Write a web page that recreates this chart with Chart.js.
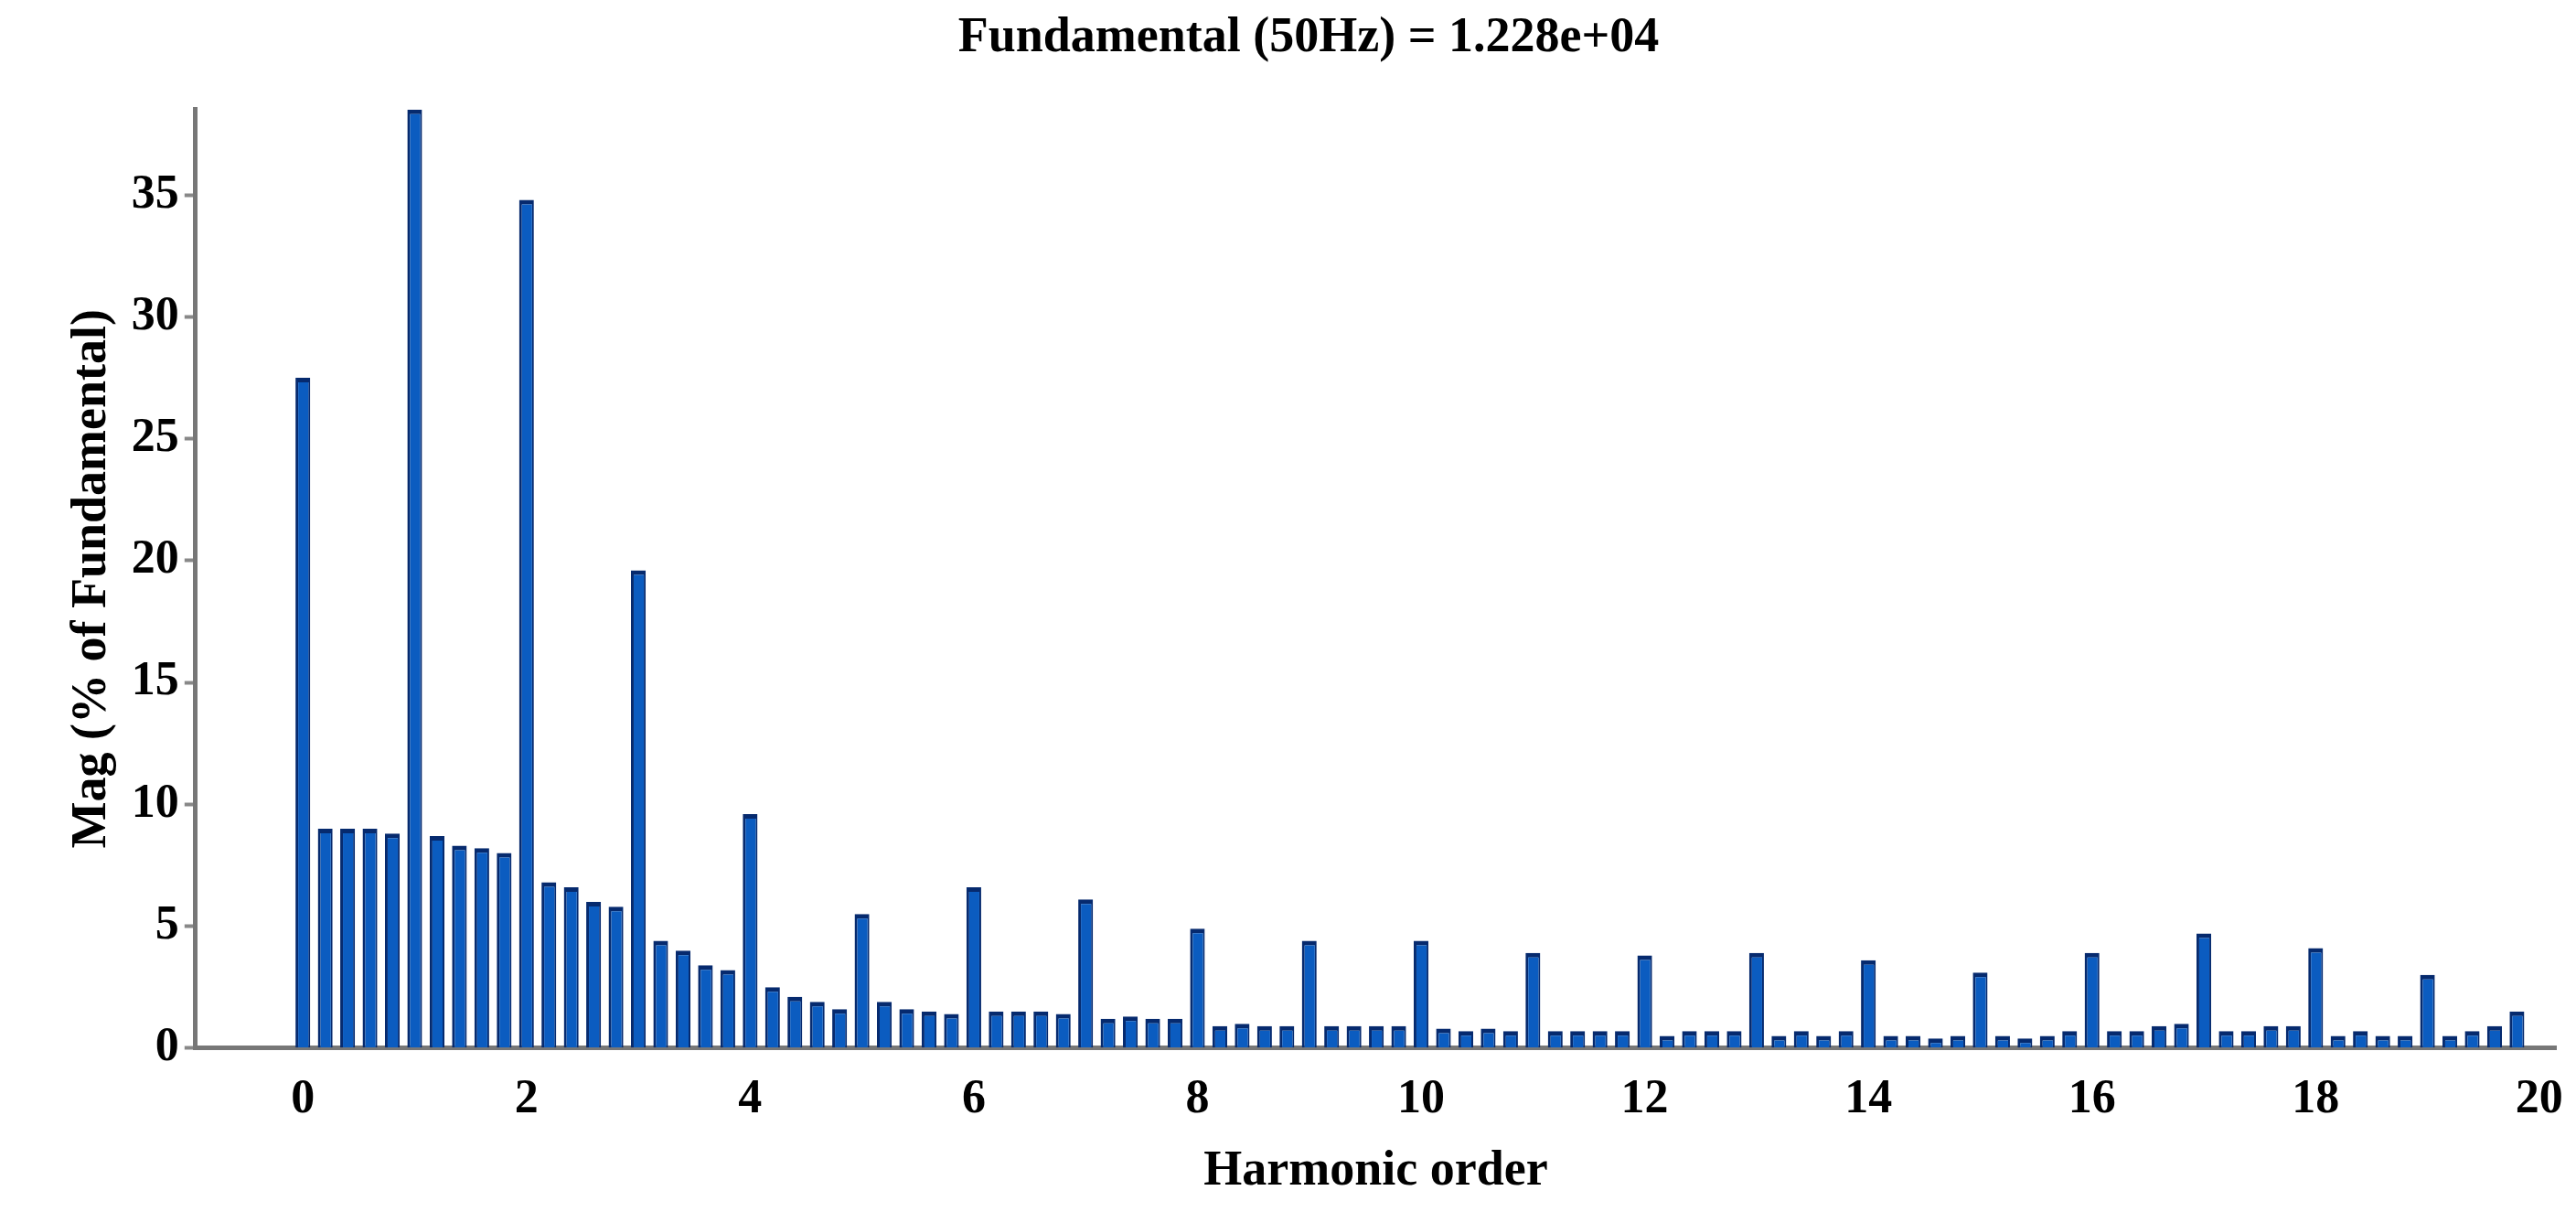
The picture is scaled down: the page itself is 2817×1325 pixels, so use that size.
<!DOCTYPE html>
<html>
<head>
<meta charset="utf-8">
<script src="https://cdn.jsdelivr.net/npm/chart.js@4/dist/chart.umd.min.js"></script>
<style>
  html, body { margin: 0; padding: 0; background: #fff; }
  #wrap { width: 2817px; height: 1325px; }
</style>
</head>
<body>
<div id="wrap"><canvas id="espectro"></canvas></div>
<script>
// harmonic order, step 0.2
var ordenes = [];
for (var i = 0; i < 100; i++) ordenes.push(Math.round(i * 2) / 10);

// Mag (% of fundamental)
var magnitudes = [
  27.5, 9.0, 9.0, 9.0, 8.8,
  38.5, 8.7, 8.3, 8.2, 8.0,
  34.8, 6.8, 6.6, 6.0, 5.8,
  19.6, 4.4, 4.0, 3.4, 3.2,
  9.6, 2.5, 2.1, 1.9, 1.6,
  5.5, 1.9, 1.6, 1.5, 1.4,
  6.6, 1.5, 1.5, 1.5, 1.4,
  6.1, 1.2, 1.3, 1.2, 1.2,
  4.9, 0.9, 1.0, 0.9, 0.9,
  4.4, 0.9, 0.9, 0.9, 0.9,
  4.4, 0.8, 0.7, 0.8, 0.7,
  3.9, 0.7, 0.7, 0.7, 0.7,
  3.8, 0.5, 0.7, 0.7, 0.7,
  3.9, 0.5, 0.7, 0.5, 0.7,
  3.6, 0.5, 0.5, 0.4, 0.5,
  3.1, 0.5, 0.4, 0.5, 0.7,
  3.9, 0.7, 0.7, 0.9, 1.0,
  4.7, 0.7, 0.7, 0.9, 0.9,
  4.1, 0.5, 0.7, 0.5, 0.5,
  3.0, 0.5, 0.7, 0.9, 1.5
];

var ticks_x = [0, 2, 4, 6, 8, 10, 12, 14, 16, 18, 20];
var ticks_y = [0, 5, 10, 15, 20, 25, 30, 35];

var puntos = [];
for (var i in ordenes) puntos.push({x: ordenes[i], y: magnitudes[i]});

var fuente = 'Liberation Serif';

new Chart(document.getElementById('espectro'), {
  type: 'bar',
  data: {
    datasets: [{
      label: 'Mag',
      data: puntos,
      backgroundColor: '#0b5cc0',
      borderColor: '#062a6e',
      borderWidth: {top: 5, left: 3, right: 2, bottom: 0},
      barPercentage: 0.66,
      categoryPercentage: 1
    }]
  },
  options: {
    responsive: true,
    maintainAspectRatio: false,
    animation: false,
    layout: {padding: {top: 10, right: 20, left: 65, bottom: 8}},
    plugins: {
      legend: {display: false},
      tooltip: {enabled: false},
      title: {
        display: true,
        text: 'Fundamental (50Hz) = 1.228e+04',
        color: '#000',
        font: {family: fuente, size: 54, weight: 'bold'},
        padding: {top: 0, bottom: 45}
      }
    },
    scales: {
      x: {
        type: 'linear',
        offset: false,
        min: -0.96,
        max: 20.15,
        afterBuildTicks: function(ax) { ax.ticks = ticks_x.map(function(v){ return {value: v}; }); },
        grid: {display: false, tickLength: 12},
        border: {color: '#777', width: 5},
        ticks: {color: '#000', font: {family: fuente, size: 52, weight: 'bold'}, maxRotation: 0, padding: 14},
        title: {display: true, text: 'Harmonic order', color: '#000', font: {family: fuente, size: 54, weight: 'bold'}, padding: {top: 0}}
      },
      y: {
        min: 0,
        max: 38.5,
        afterBuildTicks: function(ax) { ax.ticks = ticks_y.map(function(v){ return {value: v}; }); },
        grid: {display: true, drawOnChartArea: false, tickLength: 12, tickColor: '#888', tickWidth: 4},
        border: {color: '#777', width: 5},
        ticks: {color: '#000', font: {family: fuente, size: 52, weight: 'bold'}, padding: 6},
        title: {display: true, text: 'Mag (% of Fundamental)', color: '#000', font: {family: fuente, size: 54, weight: 'bold'}}
      }
    }
  }
});
</script>
</body>
</html>
